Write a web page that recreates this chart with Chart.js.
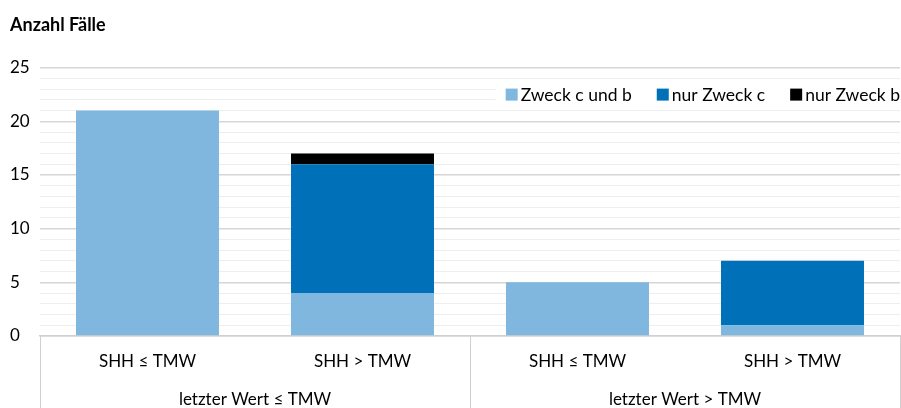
<!DOCTYPE html>
<html>
<head>
<meta charset="utf-8">
<script src="https://cdn.jsdelivr.net/npm/chart.js@4"></script>
<style>
  html, body { margin: 0; padding: 0; background: #fff; }
  #wrap { width: 901px; height: 408px; }
</style>
</head>
<body>
<div id="wrap"><canvas id="chart" width="901" height="408"></canvas></div>
<script>
var categories = ['SHH \u2264 TMW', 'SHH > TMW', 'SHH \u2264 TMW', 'SHH > TMW'];
var groups = ['letzter Wert \u2264 TMW', 'letzter Wert > TMW'];
var zweckCundB = [21, 4, 5, 1];
var nurZweckC = [0, 12, 0, 6];
var nurZweckB = [0, 1, 0, 0];

var fontFamily = 'Lato, "Open Sans", sans-serif';

// vertical separators of the two-level category axis, taken from the scale
var groupLines = {
	id: 'groupLines',
	afterDraw: function(chart) {
		var x = chart.scales.x;
		var ctx = chart.ctx;
		var top = chart.chartArea.bottom;
		var bottom = chart.height;
		var step = (x.right - x.left) / categories.length;
		ctx.save();
		ctx.strokeStyle = '#d0d0d0';
		ctx.lineWidth = 1;
		for (var i = 0; i <= categories.length; i += 2) {
			var px = Math.round(x.left + i * step) + 0.5;
			ctx.beginPath();
			ctx.moveTo(px, top);
			ctx.lineTo(px, bottom);
			ctx.stroke();
		}
		ctx.restore();
	}
};

// legend drawn inside the plot, top right, like the original
var innerLegend = {
	id: 'innerLegend',
	afterDatasetsDraw: function(chart) {
		var ctx = chart.ctx;
		var area = chart.chartArea;
		var sets = chart.data.datasets;
		var box = 12, gap = 3, itemGap = 25;
		ctx.save();
		ctx.font = '17.5px ' + fontFamily;
		ctx.textBaseline = 'middle';
		var widths = sets.map(function(d) { return box + gap + ctx.measureText(d.label).width; });
		var total = widths.reduce(function(a, b) { return a + b; }, 0) + itemGap * (sets.length - 1);
		var x = area.right - total;
		var y = area.top + 27;
		// white background so gridlines do not cross the legend
		ctx.fillStyle = '#fff';
		ctx.fillRect(x - 10, y - 11, total + 10, 22);
		sets.forEach(function(d, i) {
			ctx.fillStyle = d.backgroundColor;
			ctx.fillRect(x, y - box / 2, box, box);
			ctx.fillStyle = '#000';
			ctx.fillText(d.label, x + box + gap, y + 1);
			x += widths[i] + itemGap;
		});
		ctx.restore();
	}
};

var config = {
	type: 'bar',
	data: {
		labels: categories,
		datasets: [
			{ label: 'Zweck c und b', data: zweckCundB, backgroundColor: '#80b7de' },
			{ label: 'nur Zweck c', data: nurZweckC, backgroundColor: '#0070b8' },
			{ label: 'nur Zweck b', data: nurZweckB, backgroundColor: '#000000' }
		]
	},
	options: {
		responsive: false,
		animation: false,
		layout: { padding: { left: 10, right: 1, top: 0, bottom: 0 } },
		datasets: {
			bar: { categoryPercentage: 1, barPercentage: 0.665 }
		},
		scales: {
			x: {
				stacked: true,
				grid: { display: false, drawTicks: false },
				border: { display: true, color: '#d0d0d0', width: 1.5 },
				ticks: { color: '#000', font: { family: fontFamily, size: 17 }, padding: 15, maxRotation: 0 },
				afterFit: function(s) { s.height = 35; s.paddingLeft = 0; s.paddingRight = 0; }
			},
			x2: {
				type: 'category',
				labels: groups,
				position: 'bottom',
				grid: { display: false, drawTicks: false },
				border: { display: false },
				ticks: { color: '#000', font: { family: fontFamily, size: 17 }, padding: 18, maxRotation: 0 },
				afterFit: function(s) { s.height = 37; s.paddingLeft = 0; s.paddingRight = 0; }
			},
			y: {
				stacked: true,
				min: 0,
				max: 25,
				border: { display: false },
				afterFit: function(s) { s.width = 30; },
				ticks: {
					stepSize: 1,
					autoSkip: false,
					color: '#000',
					crossAlign: 'far',
					padding: 11,
					font: { family: fontFamily, size: 17 },
					callback: function(v) { return v % 5 === 0 ? v : ''; }
				},
				grid: {
					drawTicks: false,
					color: function(c) { return c.tick.value % 5 === 0 ? '#d6d6d6' : '#eeeeee'; },
					lineWidth: function(c) { return c.tick.value % 5 === 0 ? 1.5 : 1; }
				}
			}
		},
		plugins: {
			title: {
				display: true,
				text: 'Anzahl F\u00e4lle',
				align: 'start',
				color: '#000',
				font: { family: fontFamily, size: 18, weight: 'bold' },
				padding: { top: 14, bottom: 32 }
			},
			legend: { display: false },
			tooltip: { enabled: false }
		}
	},
	plugins: [groupLines, innerLegend]
};

var ctx = document.getElementById('chart').getContext('2d');
window.myBar = new Chart(ctx, config);
</script>
</body>
</html>
